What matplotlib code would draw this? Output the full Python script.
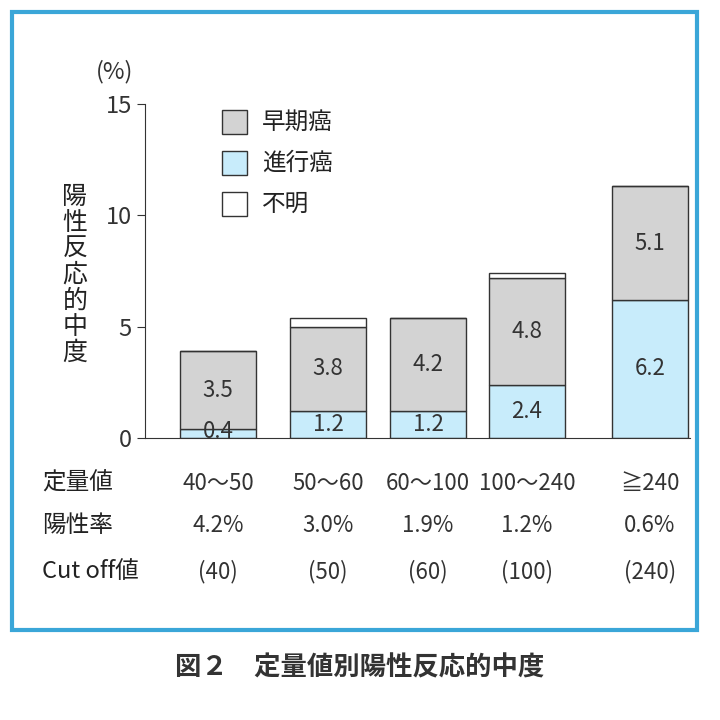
import matplotlib
matplotlib.use('Agg')
import matplotlib.pyplot as plt
from matplotlib.patches import Rectangle

plt.rcParams['font.family'] = 'Noto Sans CJK JP'

ranges = ['40～50', '50～60', '60～100', '100～240', '≧240']
pos_rate = ['4.2%', '3.0%', '1.9%', '1.2%', '0.6%']
cutoff = ['(40)', '(50)', '(60)', '(100)', '(240)']
xpos = [73, 183, 283, 382, 505]   # uneven spacing as in the original
early = [3.5, 3.8, 4.2, 4.8, 5.1]
advanced = [0.4, 1.2, 1.2, 2.4, 6.2]
unknown = [0.0, 0.4, 0.0, 0.2, 0.0]

gray = '#d3d3d3'
blue = '#c8ecfb'

fig = plt.figure(figsize=(7.2, 7.2), dpi=100)
fig.patches.append(Rectangle((12/720, 90/720), 685/720, 618/720, transform=fig.transFigure,
                             fill=False, edgecolor='#3aa6d8', linewidth=3))

ax = fig.add_axes([145/720, 1-438/720, 545/720, 334/720])
w = 76
ax.bar(xpos, advanced, w, color=blue, edgecolor='#333333', linewidth=1)
ax.bar(xpos, early, w, bottom=advanced, color=gray, edgecolor='#333333', linewidth=1)
bot2 = [a + e for a, e in zip(advanced, early)]
ax.bar(xpos, unknown, w, bottom=bot2, color='white', edgecolor='#333333', linewidth=1)

for x, a, e in zip(xpos, advanced, early):
    ax.text(x, a / 2 if a > 0.8 else a / 2 + 0.1, f'{a}', ha='center', va='center', fontsize=16, color='#333333')
    ax.text(x, a + e / 2, f'{e}', ha='center', va='center', fontsize=16, color='#333333')

ax.set_xlim(0, 545)
ax.set_ylim(0, 15)
ax.set_yticks([0, 5, 10, 15])
ax.tick_params(axis='y', labelsize=17, direction='out', length=6, colors='#333333')
ax.set_xticks([])
for s in ['top', 'right']:
    ax.spines[s].set_visible(False)
ax.spines['left'].set_color('#333333')
ax.spines['bottom'].set_color('#333333')

# legend
for i, (lab, c) in enumerate(zip(['早期癌', '進行癌', '不明'], [gray, blue, 'white'])):
    y = 1 - (122 + 41 * i) / 720
    fig.patches.append(Rectangle((222/720, y - 12/720), 25/720, 24/720, transform=fig.transFigure,
                                 facecolor=c, edgecolor='#333333', linewidth=1))
    fig.text(262/720, y, lab, fontsize=17, va='center', color='#222222')

fig.text(115/720, 1-72/720, '(%)', fontsize=17, ha='center', va='center', color='#333333')
fig.text(75/720, 1-275/720, '\n'.join('陽性反応的中度'), fontsize=18, ha='center', va='center',
         linespacing=1.0, color='#222222')

rows = [('定量値', ranges, 483), ('陽性率', pos_rate, 525), ('Cut off値', cutoff, 572)]
for name, vals, py in rows:
    fig.text(42/720, 1-py/720, name, fontsize=17, va='center', color='#222222')
    for x, v in zip(xpos, vals):
        fig.text((145 + x)/720, 1-py/720, v, fontsize=16, ha='center', va='center', color='#333333')

fig.text(360/720, 1-668/720, '図２　定量値別陽性反応的中度', fontsize=19, ha='center', va='center',
         fontweight='bold', color='#333333')

fig.savefig('out.png', dpi=100)
